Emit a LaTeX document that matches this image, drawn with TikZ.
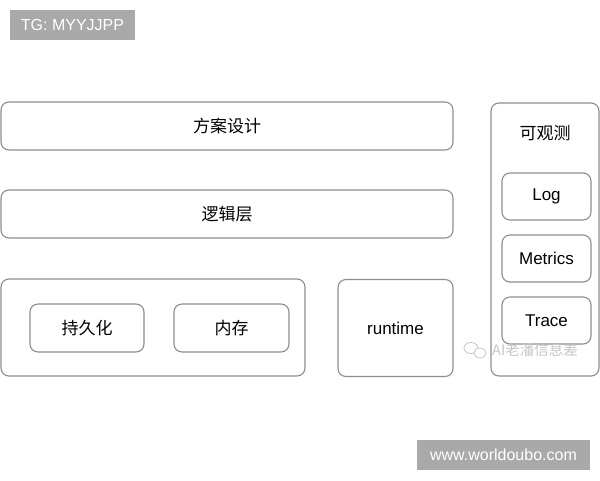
\documentclass[tikz,border=0pt]{standalone}
\usepackage{fontspec}
\setmainfont{Liberation Sans}
\newfontfamily\cjk{Noto Sans CJK SC}
\definecolor{boxline}{HTML}{8E8E8E}
\definecolor{tagfill}{HTML}{A9A9A9}
\definecolor{wmark}{HTML}{C6C6C6}
\begin{document}
\begin{tikzpicture}[x=1pt,y=-1pt,
  blk/.style={draw=boxline,line width=1.1pt,rounded corners=8pt,fill=white,
    inner sep=0pt,font=\fontsize{17}{19}\selectfont,text=black},
  zh/.style={font=\cjk\fontsize{17}{19}\selectfont},
  tag/.style={fill=tagfill,inner sep=0pt,text=white,font=\fontsize{16}{18}\selectfont}]
\useasboundingbox (0,0) rectangle (600,480);
\fill[white] (0,0) rectangle (600,480);
% tags
\node[tag,minimum width=125pt,minimum height=30pt] (tg) at (72.5,25) {TG: MYYJJPP};
\node[tag,minimum width=173pt,minimum height=30pt] (www) at (503.5,455) {www.worldoubo.com};
% layers
\node[blk,zh,minimum width=452pt,minimum height=48pt] (design) at (227,126) {方案设计};
\node[blk,zh,minimum width=452pt,minimum height=48pt] (logic) at (227,214) {逻辑层};
\node[blk,minimum width=304pt,minimum height=97pt] (store) at (153,327.5) {};
\node[blk,zh,minimum width=114pt,minimum height=48pt] (persist) at (87,328) {持久化};
\node[blk,zh,minimum width=115pt,minimum height=48pt] (mem) at (231.5,328) {内存};
\node[blk,minimum width=115pt,minimum height=97pt] (runtime) at (395.5,328) {runtime};
% observability
\node[blk,minimum width=108pt,minimum height=273pt] (obs) at (545,239.5) {};
\node[blk,zh,draw=none,fill=none] (obstitle) at (545,133) {可观测};
\node[blk,minimum width=89pt,minimum height=47pt] (log) at (546.5,196.5) {Log};
\node[blk,minimum width=89pt,minimum height=47pt] (metrics) at (546.5,258.5) {Metrics};
\node[blk,minimum width=89pt,minimum height=47pt] (trace) at (546.5,320.5) {Trace};
% watermark
\draw[wmark,line width=0.8pt] (471,348) ellipse (7pt and 5.5pt);
\draw[wmark,line width=0.8pt,fill=white] (480,353) ellipse (6pt and 5pt);
\node[inner sep=0pt,text=wmark,font=\cjk\fontsize{14.5}{16}\selectfont,anchor=west] (wm) at (492,350) {AI老潘信息差};
\end{tikzpicture}
\end{document}
